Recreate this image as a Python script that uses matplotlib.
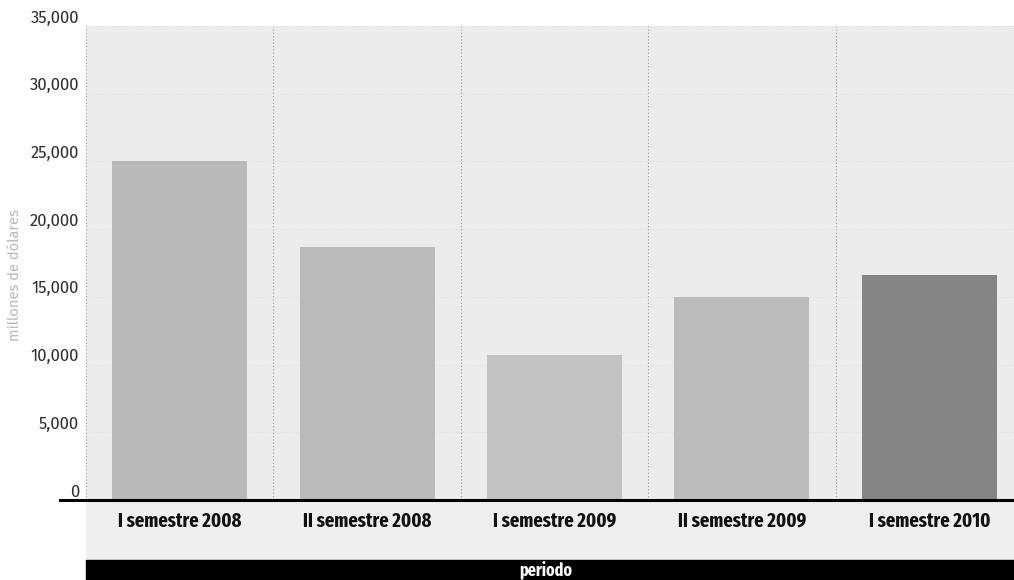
import matplotlib
matplotlib.use("Agg")
import matplotlib.pyplot as plt
from matplotlib import font_manager
from matplotlib.ticker import FuncFormatter

# datos (millones de dolares)
periodos = ["I semestre 2008", "II semestre 2008", "I semestre 2009",
            "II semestre 2009", "I semestre 2010"]
valores = [25000, 18700, 10700, 15000, 16600]
colores = ["#b9b9b9", "#bababa", "#c2c2c2", "#bcbcbc", "#858585"]
yticks = [0, 5000, 10000, 15000, 20000, 25000, 30000, 35000]

installed = set(f.name for f in font_manager.fontManager.ttflist)

def pick(*cands):
    for c in cands:
        if c in installed:
            return c
    return "DejaVu Sans"

f_cond = pick("Fira Sans Extra Condensed", "Fira Sans Condensed", "Roboto Condensed",
              "Liberation Sans Narrow", "DejaVu Sans")
f_reg = pick("Fira Sans", "Open Sans", "Noto Sans", "DejaVu Sans")

W, H = 1014, 580
fig = plt.figure(figsize=(W / 100, H / 100), dpi=100)

# fondo gris claro del area del grafico (incluye zona de etiquetas)
fig.patches.append(plt.Rectangle((86 / W, 20 / H), 1 - 86 / W, 60 / H,
                                 transform=fig.transFigure, color="#efefef", zorder=-2))
# banda negra inferior
fig.patches.append(plt.Rectangle((86 / W, 0), 1 - 86 / W, 20 / H,
                                 transform=fig.transFigure, color="black", zorder=-2))

ax = fig.add_axes([86 / W, 80 / H, 937 / W, 474 / H])
ax.set_facecolor("#ececec")

x = list(range(len(periodos)))
ax.bar(x, valores, width=0.72, color=colores, zorder=2)

ax.set_xlim(-0.5, len(periodos) - 0.5)
ax.set_ylim(0, 35000)

# lineas punteadas de division
for b in [i - 0.5 for i in x]:
    ax.axvline(b, color="#9a9a9a", lw=0.8, ls=(0, (1, 2)), zorder=1)
for t in yticks[1:]:
    ax.axhline(t, color="#d2d2d2", lw=0.6, ls=(0, (1, 3)), zorder=1)

for s in ax.spines.values():
    s.set_visible(False)

ax.axhline(0, xmin=-26 / 937, xmax=1, color="black", lw=2.2, clip_on=False, zorder=3)

ax.set_yticks(yticks)
ax.yaxis.set_major_formatter(FuncFormatter(lambda v, p: f"{int(v):,}"))
ax.tick_params(axis="y", length=0, pad=5, labelsize=12, labelcolor="#2e2e2e")
for lab in ax.get_yticklabels():
    lab.set_family(f_reg)
    lab.set_verticalalignment("bottom")

ax.set_xticks(x)
ax.set_xticklabels(periodos)
ax.tick_params(axis="x", length=0, pad=8, labelsize=14.5, labelcolor="#111111")
for lab in ax.get_xticklabels():
    lab.set_family(f_cond)
    lab.set_fontweight("bold")

fig.text(546 / W, 10 / H, "periodo", color="white",
         ha="center", va="center", fontsize=12.5, fontweight="bold", family=f_cond)

fig.text(15 / W, 1 - 275 / H, "millones de dólares", rotation=90, color="#b8b8b8",
         ha="center", va="center", fontsize=10.5, family=f_reg)

fig.savefig("out.png", dpi=100)
